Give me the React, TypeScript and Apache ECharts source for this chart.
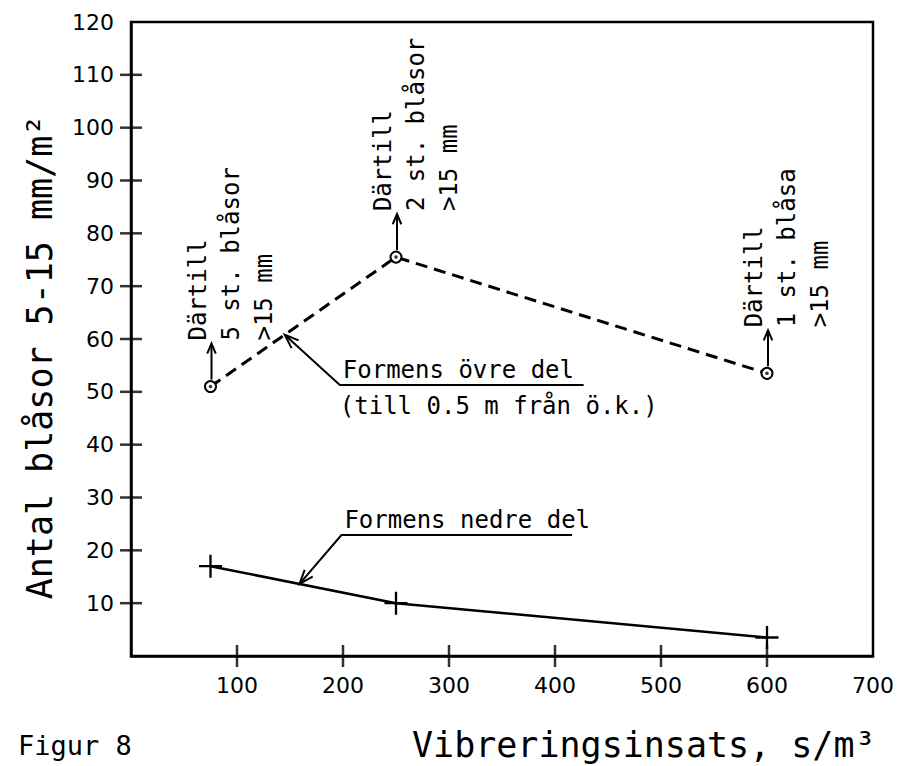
import React, { useEffect, useRef } from "react";
import * as echarts from "echarts";

// ---- data ----
const xTickValues = [100, 200, 300, 400, 500, 600];
const xLabelValues = [100, 200, 300, 400, 500, 600, 700];
const yTickValues = [10, 20, 30, 40, 50, 60, 70, 80, 90, 100, 110];
const yLabelValues = [10, 20, 30, 40, 50, 60, 70, 80, 90, 100, 110, 120];

const vibration = [75, 250, 600]; // s/m³
const upperPart = [51, 75.5, 53.5]; // Formens övre del
const lowerPart = [17, 10, 3.5]; // Formens nedre del

const upperNotes = [
  ["Därtill", "5 st. blåsor", ">15 mm"],
  ["Därtill", "2 st. blåsor", ">15 mm"],
  ["Därtill", "1 st. blåsa", ">15 mm"],
];
const upperLabel = ["Formens övre del", "(till 0.5 m från ö.k.)"];
const lowerLabel = ["Formens nedre del"];

// leader anchors in data units: [tip x on line, elbow x, elbow y, underline end x]
const upperLeader = [145, 197, 51.3, 427];
const lowerLeader = [159, 198.5, 22.9, 416];

const yTitle = "Antal blåsor 5-15 mm/m²";
const xTitle = "Vibreringsinsats, s/m³";
const figTitle = "Figur 8";

const MONO = "DejaVu Sans Mono";
const BLACK = "#000";

function interp(xs: number[], ys: number[], x: number) {
  for (let i = 0; i < xs.length - 1; i++) {
    if (x >= xs[i] && x <= xs[i + 1]) {
      const t = (x - xs[i]) / (xs[i + 1] - xs[i]);
      return ys[i] + t * (ys[i + 1] - ys[i]);
    }
  }
  return ys[0];
}

export default function App() {
  const ref = useRef<HTMLDivElement>(null);
  useEffect(() => {
    document.body.style.margin = "0";
    const chart = echarts.init(ref.current!, null, { renderer: "svg" });
    const axisLineStyle = { color: BLACK, width: 2.5 };
    const option: any = {
      animation: false,
      backgroundColor: "#fff",
      grid: {
        left: 131,
        right: 31,
        top: 22,
        bottom: 110,
        show: true,
        borderColor: BLACK,
        borderWidth: 2.5,
        backgroundColor: "transparent",
      },
      xAxis: {
        type: "value",
        min: 0,
        max: 700,
        interval: 100,
        splitLine: { show: false },
        axisLine: { show: true, lineStyle: axisLineStyle },
        axisTick: { show: false },
        axisLabel: {
          customValues: xLabelValues,
          margin: 18,
          color: BLACK,
          fontFamily: "DejaVu Sans",
          fontSize: 22,
        },
      },
      yAxis: {
        type: "value",
        min: 0,
        max: 120,
        interval: 10,
        splitLine: { show: false },
        axisLine: { show: true, lineStyle: axisLineStyle },
        axisTick: { show: false },
        axisLabel: {
          customValues: yLabelValues,
          margin: 17,
          color: BLACK,
          fontFamily: "DejaVu Sans",
          fontSize: 22,
        },
      },
      series: [
        {
          name: "Formens övre del",
          type: "line",
          data: vibration.map((x, i) => [x, upperPart[i]]),
          lineStyle: { color: BLACK, width: 3, type: [12, 7] },
          symbol: "emptyCircle",
          symbolSize: 11,
          itemStyle: { color: BLACK, borderColor: BLACK, borderWidth: 2.4 },
          z: 3,
        },
        {
          name: "dots",
          type: "scatter",
          data: vibration.map((x, i) => [x, upperPart[i]]),
          symbolSize: 3.5,
          itemStyle: { color: BLACK },
          z: 5,
        },
        {
          name: "Formens nedre del",
          type: "line",
          data: vibration.map((x, i) => [x, lowerPart[i]]),
          lineStyle: { color: BLACK, width: 2.5 },
          symbol: "path://M0,9H20V11H0Z M9,0H11V20H9Z",
          symbolSize: 23,
          itemStyle: { color: BLACK },
          z: 3,
        },
        {
          // x-axis tick marks crossing the axis line
          name: "xTicks",
          type: "scatter",
          data: xTickValues.map((v) => [v, 0]),
          symbol: "rect",
          symbolSize: [2.5, 22],
          itemStyle: { color: BLACK },
          clip: false,
          silent: true,
          z: 4,
        },
        {
          // y-axis tick marks crossing the axis line
          name: "yTicks",
          type: "scatter",
          data: yTickValues.map((v) => [0, v]),
          symbol: "rect",
          symbolSize: [22, 2.5],
          itemStyle: { color: BLACK },
          clip: false,
          silent: true,
          z: 4,
        },
      ],
    };
    chart.setOption(option);

    const px = (x: number, y: number) => chart.convertToPixel({ seriesIndex: 0 }, [x, y]) as number[];
    const g: any[] = [];
    const txt = (text: string, x: number, y: number, size: number, extra: any = {}) => ({
      type: "text",
      x,
      y,
      rotation: extra.rotation || 0,
      style: {
        text,
        fill: BLACK,
        fontFamily: extra.family || MONO,
        fontSize: size,
        align: extra.align || "left",
        textAlign: extra.align || "left",
        verticalAlign: extra.va || "middle",
        textVerticalAlign: extra.va || "middle",
      },
    });
    const arrowHead = (tip: number[], from: number[], len = 14, ang = 0.38) => {
      const dx = from[0] - tip[0];
      const dy = from[1] - tip[1];
      const d = Math.hypot(dx, dy);
      const ux = dx / d;
      const uy = dy / d;
      const rot = (a: number) => [
        tip[0] + len * (ux * Math.cos(a) - uy * Math.sin(a)),
        tip[1] + len * (ux * Math.sin(a) + uy * Math.cos(a)),
      ];
      return {
        type: "polyline",
        shape: { points: [rot(ang), tip, rot(-ang)] },
        style: { stroke: BLACK, lineWidth: 2, fill: "none" },
      };
    };

    // axis titles
    g.push(txt(yTitle, 40, 357, 35, { rotation: Math.PI / 2, align: "center" }));
    g.push(txt(xTitle, 412, 745, 35));
    g.push(txt(figTitle, 18, 745, 27));

    // notes above the upper series
    const colOffsets = [-13, 20, 53];
    vibration.forEach((x, i) => {
      const [mx, my] = px(x, upperPart[i]);
      const top = [mx + 1, my - 43];
      g.push({
        type: "line",
        shape: { x1: mx + 1, y1: my - 7, x2: top[0], y2: top[1] },
        style: { stroke: BLACK, lineWidth: 2 },
      });
      g.push(arrowHead(top, [mx + 1, my], 11, 0.4));
      upperNotes[i].forEach((line, j) => {
        g.push(txt(line, mx + colOffsets[j], my - 46, 24, { rotation: Math.PI / 2 }));
      });
    });

    // leaders
    const leader = (spec: number[], ys: number[], labels: string[]) => {
      const tip = px(spec[0], interp(vibration, ys, spec[0]));
      const elbow = px(spec[1], spec[2]);
      const end = px(spec[3], spec[2]);
      g.push({
        type: "polyline",
        shape: { points: [tip, elbow, end] },
        style: { stroke: BLACK, lineWidth: 2, fill: "none" },
      });
      g.push(arrowHead(tip, elbow, 15, 0.36));
      g.push(txt(labels[0], elbow[0] + 3, elbow[1] - 3, 24, { va: "bottom" }));
      if (labels[1]) g.push(txt(labels[1], elbow[0], elbow[1] + 21, 24));
    };
    leader(upperLeader, upperPart, upperLabel);
    leader(lowerLeader, lowerPart, lowerLabel);

    chart.setOption({ graphic: { elements: g } });
    return () => chart.dispose();
  }, []);
  return <div ref={ref} style={{ width: 904, height: 766 }} />;
}
